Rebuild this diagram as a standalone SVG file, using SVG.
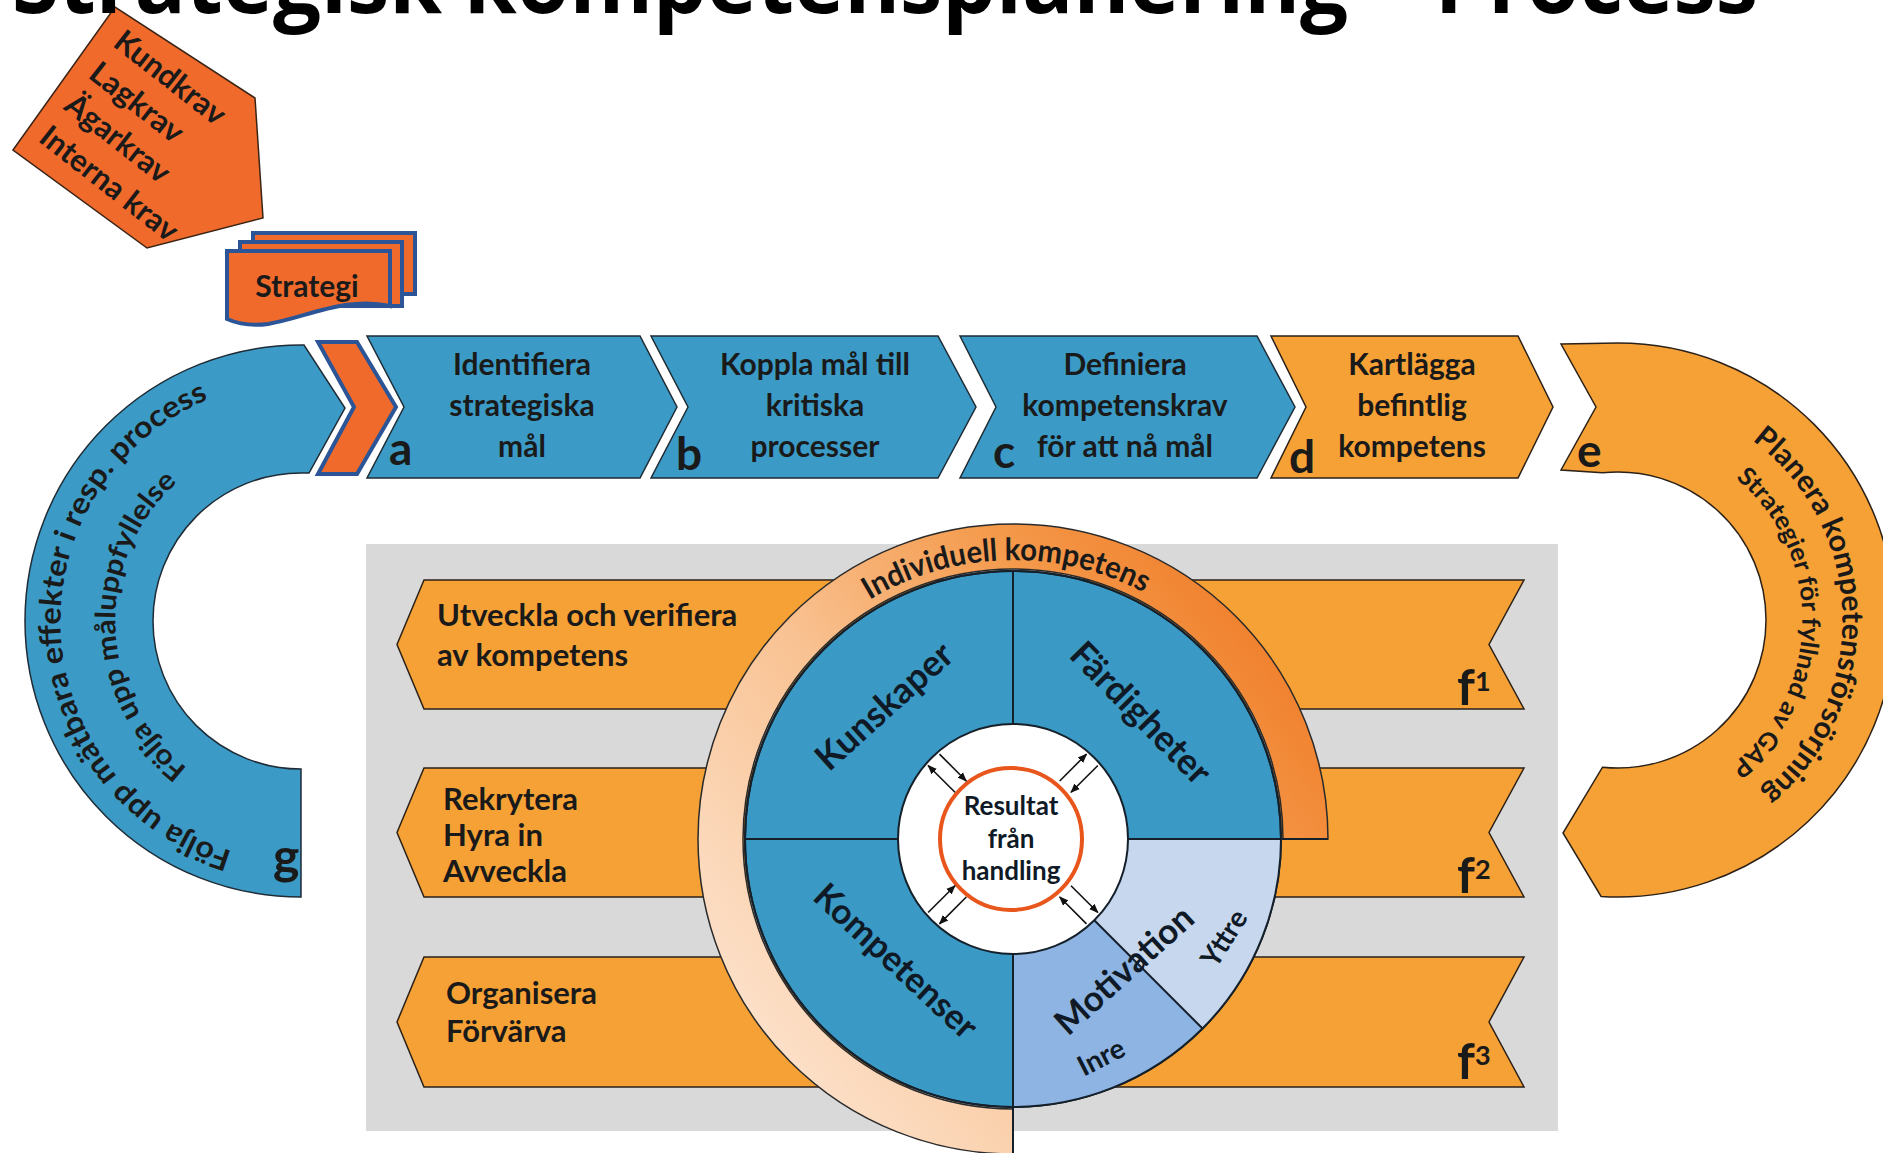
<svg xmlns="http://www.w3.org/2000/svg" width="1883" height="1153" viewBox="0 0 1883 1153">
<defs>
<style>
.t{font-family:Lato,'Open Sans','Liberation Sans',sans-serif;font-weight:700;fill:#1a1a1a}
.blue{fill:#3b9bc6;stroke:#1f2b35;stroke-width:1.5}
.org{fill:#f6a135;stroke:#2b2118;stroke-width:1.5}
.red{fill:#f06b2b}
.doc{fill:#f06b2b;stroke:#2c5597;stroke-width:4}
.div{stroke:#15202a;stroke-width:2;fill:none}
.arr{stroke:#111;stroke-width:1.6;marker-end:url(#ah)}
</style>
<marker id="ah" viewBox="0 0 10 10" refX="9" refY="5" markerWidth="6" markerHeight="6" orient="auto"><path d="M0,1 L10,5 L0,9 Z" fill="#111"/></marker>
<linearGradient id="ringg" gradientUnits="userSpaceOnUse" x1="720" y1="1100" x2="1320" y2="640">
<stop offset="0" stop-color="#fde8d7"/>
<stop offset="0.45" stop-color="#f9c292"/>
<stop offset="0.75" stop-color="#f4994a"/>
<stop offset="1" stop-color="#ef7a26"/>
</linearGradient>
<path id="pgo" d="M292.7,860.9 A240,240 0 0 1 267.6,383.3"/>
<path id="pgi" d="M291.3,806.7 A186,186 0 0 1 278.3,436.4"/>
<path id="peo" d="M1631.7,396.4 A224,224 0 0 1 1643.4,842.6"/>
<path id="pei" d="M1637.2,437.0 A184,184 0 0 1 1630.8,803.6"/>
<path id="pring" d="M737.1,797.8 A279,279 0 0 1 1286.4,783.4"/>
</defs>

<g id="krav">
<polygon points="13,150 115,7 255,98 263,218 147,248" class="red" stroke="#3b2416" stroke-width="1.5"/>
<g transform="rotate(38)" class="t" font-size="31">
<text x="116" y="-33" textLength="132" lengthAdjust="spacingAndGlyphs">Kundkrav</text>
<text x="116" y="7" textLength="110" lengthAdjust="spacingAndGlyphs">Lagkrav</text>
<text x="116" y="47" textLength="124" lengthAdjust="spacingAndGlyphs">Ägarkrav</text>
<text x="116" y="88" textLength="166" lengthAdjust="spacingAndGlyphs">Interna krav</text>
</g>
</g>

<g id="strategi">
<path class="doc" d="M253,233 H415 V294 H253 Z"/>
<path class="doc" d="M240,242 H402 V306 H240 Z"/>
<path class="doc" d="M227,251 H390 V306 C345,296 305,318 268,324 Q245,327 227,319 Z"/>
<text class="t" x="307" y="297" text-anchor="middle" font-size="30">Strategi</text>
</g>

<g id="g-arc">
<path class="blue" d="M301,897 A276,276 0 0 1 25,621 A276,276 0 0 1 301,345 L304,345 L345,408 L309,473 L301,473 A148,148 0 0 0 153,621 A148,148 0 0 0 301,769 Z"/>
<text class="t" font-size="30"><textPath href="#pgo" startOffset="50%" text-anchor="middle" textLength="590" lengthAdjust="spacingAndGlyphs">Följa upp  mätbara effekter i resp. process</textPath></text>
<text class="t" font-size="28"><textPath href="#pgi" startOffset="50%" text-anchor="middle" textLength="326" lengthAdjust="spacingAndGlyphs">Följa upp måluppfyllelse</textPath></text>
<text class="t" x="273" y="874" font-size="50">g</text>
</g>

<g id="start-chevron">
<polygon points="318,342 357,342 396,407 357,474 318,474 354,407" fill="#f06b2b" stroke="#2c5597" stroke-width="4"/>
</g>

<g id="step-a">
<polygon class="blue" points="367,336 640,336 677,407 640,478 367,478 404,407"/>
<g class="t" font-size="30" text-anchor="middle">
<text x="522" y="375">Identifiera</text>
<text x="522" y="416">strategiska</text>
<text x="522" y="457">mål</text>
</g>
<text class="t" x="389" y="465" font-size="46">a</text>
</g>

<g id="step-b">
<polygon class="blue" points="651,336 938,336 976,407 938,478 651,478 688,407"/>
<g class="t" font-size="30" text-anchor="middle">
<text x="815" y="375">Koppla mål till</text>
<text x="815" y="416">kritiska</text>
<text x="815" y="457">processer</text>
</g>
<text class="t" x="676" y="470" font-size="46">b</text>
</g>

<g id="step-c">
<polygon class="blue" points="960,336 1257,336 1295,407 1257,478 960,478 996,407"/>
<g class="t" font-size="30" text-anchor="middle">
<text x="1125" y="375">Definiera</text>
<text x="1125" y="416">kompetenskrav</text>
<text x="1125" y="457">för att nå mål</text>
</g>
<text class="t" x="993" y="468" font-size="46">c</text>
</g>

<g id="step-d">
<polygon class="org" points="1271,336 1518,336 1553,407 1518,478 1271,478 1306,407"/>
<g class="t" font-size="30" text-anchor="middle">
<text x="1412" y="375">Kartlägga</text>
<text x="1412" y="416">befintlig</text>
<text x="1412" y="457">kompetens</text>
</g>
<text class="t" x="1289" y="473" font-size="46">d</text>
</g>

<g id="e-arc">
<path class="org" d="M1561,344 L1618,343 A277,277 0 0 1 1895,620 A277,277 0 0 1 1601.1,896.5 L1563,833 L1602.5,767.2 A148,148 0 0 0 1766,620 A148,148 0 0 0 1602.5,472.8 L1561,470 L1596,407 Z"/>
<text class="t" font-size="30"><textPath href="#peo" startOffset="50%" text-anchor="middle" textLength="405" lengthAdjust="spacingAndGlyphs">Planera kompetensförsörjning</textPath></text>
<text class="t" font-size="25"><textPath href="#pei" startOffset="50%" text-anchor="middle" textLength="330" lengthAdjust="spacingAndGlyphs">Strategier för fyllnad av GAP</textPath></text>
<text class="t" x="1577" y="467" font-size="46">e</text>
</g>

<g id="panel">
<rect x="366" y="544" width="1192" height="587" fill="#d9d9d9"/>
</g>

<g id="f1">
<polygon class="org" points="397,644.5 424,580 1524,580 1489,644.5 1524,709 424,709"/>
<text class="t" x="437" y="626" font-size="31">Utveckla och verifiera</text>
<text class="t" x="437" y="666" font-size="31">av kompetens</text>
<text class="t" x="1457" y="705" font-size="50">f<tspan font-size="27" dy="-14">1</tspan></text>
</g>

<g id="f2">
<polygon class="org" points="397,832.5 424,768 1524,768 1489,832.5 1524,897 424,897"/>
<text class="t" x="443" y="810" font-size="31">Rekrytera</text>
<text class="t" x="443" y="846" font-size="31">Hyra in</text>
<text class="t" x="443" y="882" font-size="31">Avveckla</text>
<text class="t" x="1457" y="893" font-size="50">f<tspan font-size="27" dy="-14">2</tspan></text>
</g>

<g id="f3">
<polygon class="org" points="397,1022 424,957 1524,957 1489,1022 1524,1087 424,1087"/>
<text class="t" x="446" y="1004" font-size="31">Organisera</text>
<text class="t" x="446" y="1042" font-size="31">Förvärva</text>
<text class="t" x="1457" y="1079" font-size="50">f<tspan font-size="27" dy="-14">3</tspan></text>
</g>

<g id="ring">
<path d="M1013,1154 A315,315 0 1 1 1328,839 L1283,839 A270,270 0 1 0 1013,1109 Z" fill="url(#ringg)" stroke="#2a2a2a" stroke-width="1.5"/>
<text class="t" font-size="31"><textPath href="#pring" startOffset="50%" text-anchor="middle" textLength="287" lengthAdjust="spacingAndGlyphs">Individuell kompetens</textPath></text>
</g>

<g id="wheel">
<circle cx="1013" cy="839" r="268" fill="#3a9ac5" stroke="#15202a" stroke-width="2"/>
<path d="M1013,839 L1281,839 A268,268 0 0 1 1202.5,1028.5 Z" fill="#c6d7ee"/>
<path d="M1013,839 L1202.5,1028.5 A268,268 0 0 1 1013,1107 Z" fill="#8db4e2"/>
<circle cx="1013" cy="839" r="268" fill="none" stroke="#15202a" stroke-width="2"/>
<path class="div" d="M1013,571 V724 M1013,954 V1153 M745,839 H898 M1128,839 H1328 M1094.3,920.3 L1202.5,1028.5"/>
<circle cx="1013" cy="839" r="115" fill="#fff" stroke="#15202a" stroke-width="2"/>
<circle cx="1011" cy="839" r="71" fill="#fff" stroke="#e8561c" stroke-width="4"/>
</g>

<g id="connectors">
<line class="arr" x1="955" y1="792.3" x2="928.1" y2="765.5"/>
<line class="arr" x1="939.5" y1="754.1" x2="966.3" y2="781"/>
<line class="arr" x1="1059.7" y1="781" x2="1086.5" y2="754.1"/>
<line class="arr" x1="1097.9" y1="765.5" x2="1071" y2="792.3"/>
<line class="arr" x1="928.1" y1="912.5" x2="955" y2="885.7"/>
<line class="arr" x1="966.3" y1="897" x2="939.5" y2="923.9"/>
<line class="arr" x1="1071" y1="885.7" x2="1097.9" y2="912.5"/>
<line class="arr" x1="1086.5" y1="923.9" x2="1059.7" y2="897"/>
</g>

<g id="wheel-labels" class="t" text-anchor="middle" style="fill:#0f1a26">
<text x="1011" y="815" font-size="26">Resultat</text>
<text x="1011" y="848" font-size="26">från</text>
<text x="1011" y="880" font-size="26">handling</text>
<text transform="translate(884,706) rotate(-42)" dy="0.35em" font-size="36">Kunskaper</text>
<text transform="translate(1141,713) rotate(45.5)" dy="0.35em" font-size="36">Färdigheter</text>
<text transform="translate(896,961) rotate(43)" dy="0.35em" font-size="35">Kompetenser</text>
<text transform="translate(1124,970) rotate(-42)" dy="0.35em" font-size="35">Motivation</text>
<text transform="translate(1224,938) rotate(-58)" dy="0.35em" font-size="28">Yttre</text>
<text transform="translate(1101,1057) rotate(-27)" dy="0.35em" font-size="28">Inre</text>
</g>

<g id="title">
<text x="12" y="13" font-family="'Open Sans','Noto Sans','Liberation Sans',sans-serif" font-weight="700" font-size="90" fill="#000" textLength="1746" lengthAdjust="spacingAndGlyphs">Strategisk kompetensplanering – Process</text>
</g>
</svg>
